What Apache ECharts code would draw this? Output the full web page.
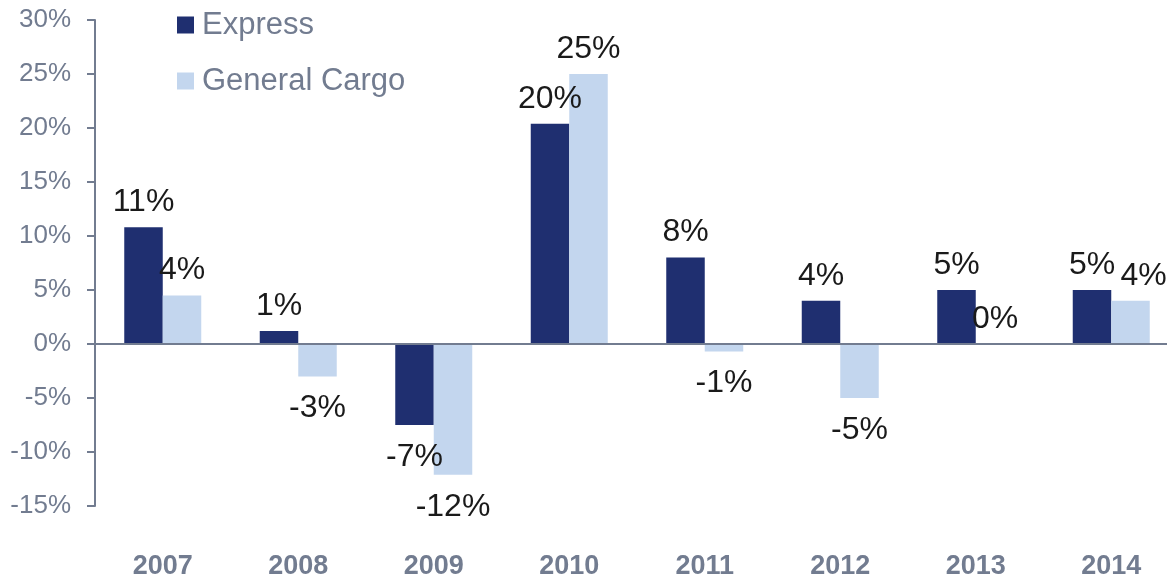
<!DOCTYPE html>
<html>
<head>
<meta charset="utf-8">
<script src="https://cdn.jsdelivr.net/npm/echarts@6/dist/echarts.min.js"></script>
<style>
  html, body { margin: 0; padding: 0; background: #fff; overflow: hidden; }
  /* the plot runs a bit past the right edge of the picture, like the original */
  #chart { width: 1180px; height: 580px; }
</style>
</head>
<body>
<div id="chart"></div>
<script>
// data
const years = ["2007", "2008", "2009", "2010", "2011", "2012", "2013", "2014"];
const expressValues = [10.8, 1.2, -7.5, 20.4, 8.0, 4.0, 5.0, 5.0];
const cargoValues = [4.5, -3.0, -12.1, 25.0, -0.7, -5.0, 0, 4.0];
const expressLabels = ["11%", "1%", "-7%", "20%", "8%", "4%", "5%", "5%"];
const cargoLabels = ["4%", "-3%", "-12%", "25%", "-1%", "-5%", "0%", "4%"];

const gray = "#727c90";
const font = "Liberation Sans, Arial, sans-serif";

// label above for positive bars, below for negative
// when both bars of a year are about as high, push the right label out a bit
function toItems(values, labels, neighbour) {
  return values.map((v, i) => {
    let clash = neighbour && v >= 0 && neighbour[i] >= 0 && Math.abs(neighbour[i] - v) < 2;
    return {
      value: v,
      label: {
        position: v < 0 ? "bottom" : "top",
        distance: v < 0 ? 16 : 9,
        offset: clash ? [13, 0] : [0, 0],
        formatter: labels[i],
      },
    };
  });
}

const labelStyle = {
  show: true,
  color: "#1a1a1a",
  fontSize: 32,
  fontFamily: font,
};

const myChart = echarts.init(document.getElementById("chart"));

let option = {
  backgroundColor: "#fff",
  animation: false,
  grid: {
    left: 95,
    right: 1,
    top: 20,
    bottom: 72,
    containLabel: false,
  },
  legend: {
    orient: "vertical",
    left: 177,
    top: 8,
    padding: 0,
    icon: "rect",
    itemWidth: 17,
    itemHeight: 17,
    itemGap: 22,
    textStyle: {
      color: gray,
      fontSize: 31,
      fontFamily: font,
      lineHeight: 34,
      padding: [0, 0, 0, 3],
    },
    data: ["Express", "General Cargo"],
  },
  xAxis: {
    type: "category",
    data: years,
    axisLine: { show: false, onZero: false },
    axisTick: { show: false },
    axisLabel: {
      color: gray,
      fontSize: 27,
      fontWeight: "bold",
      fontFamily: font,
      margin: 47,
    },
  },
  yAxis: {
    type: "value",
    min: -15,
    max: 30,
    interval: 5,
    splitLine: { show: false },
    axisLine: { show: true, lineStyle: { color: gray, width: 2 } },
    axisTick: { show: true, length: 8, lineStyle: { color: gray, width: 2 } },
    axisLabel: {
      color: gray,
      fontSize: 26,
      fontFamily: font,
      margin: 24,
      formatter: "{value}%",
    },
  },
  series: [
    {
      name: "Express",
      type: "bar",
      barWidth: 38.5,
      barGap: "0%",
      itemStyle: { color: "#1f2f70" },
      label: labelStyle,
      data: toItems(expressValues, expressLabels),
      markLine: {
        silent: true,
        symbol: "none",
        label: { show: false },
        lineStyle: { color: gray, width: 2, type: "solid" },
        data: [{ yAxis: 0 }],
      },
    },
    {
      name: "General Cargo",
      type: "bar",
      barWidth: 38.5,
      itemStyle: { color: "#c3d6ee" },
      label: labelStyle,
      data: toItems(cargoValues, cargoLabels, expressValues),
    },
  ],
};

myChart.setOption(option);
</script>
</body>
</html>
